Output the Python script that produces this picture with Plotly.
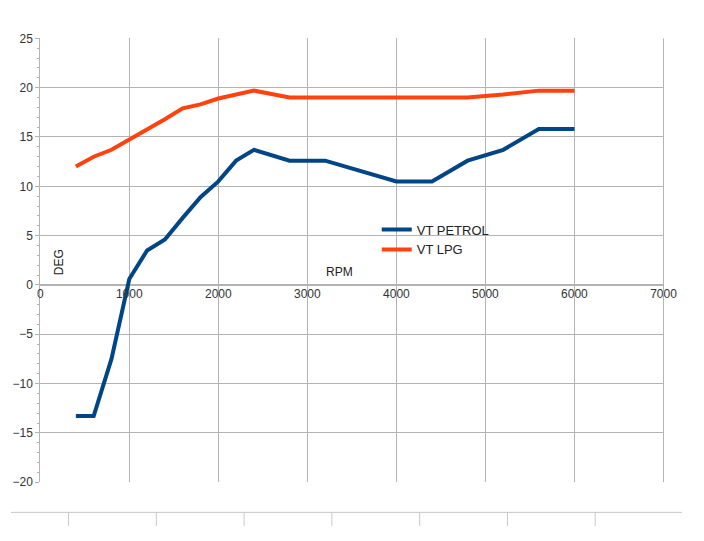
import plotly.graph_objects as go

rpm_petrol = [400, 600, 800, 1000, 1200, 1400, 1600, 1800, 2000, 2200, 2400,
              2800, 3200, 3600, 4000, 4400, 4800, 5200, 5600, 6000]
deg_petrol = [-13.3, -13.3, -7.5, 0.6, 3.5, 4.6, 6.8, 8.9, 10.5, 12.6, 13.7,
              12.6, 12.6, 11.5, 10.5, 10.5, 12.6, 13.7, 15.8, 15.8]
rpm_lpg = [400, 600, 800, 1000, 1200, 1400, 1600, 1800, 2000, 2400,
           2800, 3200, 4000, 4800, 5200, 5600, 6000]
deg_lpg = [12.0, 13.0, 13.7, 14.7, 15.8, 16.8, 17.9, 18.3, 18.9, 19.7,
           19.0, 19.0, 19.0, 19.0, 19.3, 19.7, 19.7]

fig = go.Figure()
fig.add_trace(go.Scatter(x=rpm_petrol, y=deg_petrol, mode="lines", name="VT PETROL",
                         line=dict(color="#004586", width=4)))
fig.add_trace(go.Scatter(x=rpm_lpg, y=deg_lpg, mode="lines", name="VT LPG",
                         line=dict(color="#ff420e", width=4)))

# page body has an 8px margin, so size the figure to fit the window
OFF = 8
W, H = 704 - 2 * OFF, 541 - 2 * OFF


def px(p):
    return (p - OFF) / W


def py(p):
    return 1 - (p - OFF) / H


x0, x1 = px(38), px(677)
y0, y1 = py(488), py(32)

fig.update_layout(
    width=W, height=H, margin=dict(l=0, r=0, t=0, b=0),
    paper_bgcolor="white", plot_bgcolor="white",
    font=dict(family="Liberation Sans", size=12, color="#333"),
    showlegend=True,
    legend=dict(x=px(383), y=py(213), xanchor="left", yanchor="top",
                bgcolor="rgba(0,0,0,0)", font=dict(size=13, color="#222"),
                tracegroupgap=0),
    xaxis=dict(domain=[x0, x1], range=[0, 7000], dtick=1000, showgrid=True,
               gridcolor="#b3b3b3", zeroline=False, showline=False,
               anchor="free", position=py(285), ticks="", tickfont=dict(size=12)),
    yaxis=dict(domain=[y0, y1], range=[-20, 25], dtick=5, showgrid=True,
               gridcolor="#b3b3b3", zeroline=True, zerolinecolor="#b3b3b3",
               showline=True, linecolor="#b3b3b3", ticks="outside", ticklen=4,
               tickcolor="#b3b3b3", minor=dict(ticks="outside", ticklen=2,
                                               tickcolor="#b3b3b3", dtick=1),
               tickfont=dict(size=12)),
    annotations=[
        dict(text="DEG", x=px(48), y=py(262), xref="paper", yref="paper",
             showarrow=False, textangle=-90, font=dict(size=12, color="#222")),
        dict(text="RPM", x=px(345), y=py(272), xref="paper", yref="paper",
             showarrow=False, font=dict(size=12, color="#222")),
    ],
)

# right side of plot border
fig.add_shape(type="line", xref="paper", yref="paper", x0=x1, x1=x1, y0=y0, y1=y1,
              line=dict(color="#b3b3b3", width=1))
# spreadsheet cell lines under the chart
fig.add_shape(type="line", xref="paper", yref="paper", x0=0, x1=1,
              y0=py(519), y1=py(519), line=dict(color="#c8c8c8", width=1))
for xx in [67, 157, 247, 337, 427, 517, 607]:
    fig.add_shape(type="line", xref="paper", yref="paper", x0=px(xx), x1=px(xx),
                  y0=0, y1=py(519), line=dict(color="#c8c8c8", width=1))

fig.write_html("out.html")
